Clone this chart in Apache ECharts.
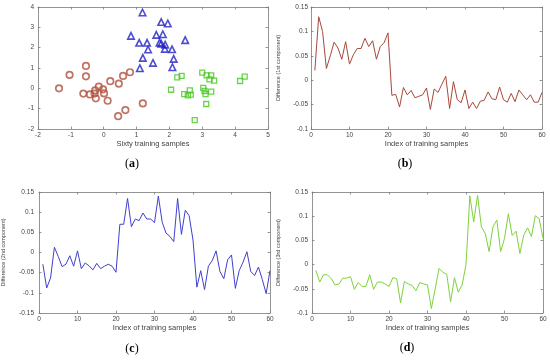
<!DOCTYPE html>
<html><head><meta charset="utf-8">
<script src="https://cdn.jsdelivr.net/npm/echarts@6/dist/echarts.min.js"></script>
<style>html,body{margin:0;padding:0;background:#fff}#c{width:550px;height:361px}</style>
</head><body><div id="c"></div>
<script>
// ---- data ----
const idx = [1,2,3,4,5,6,7,8,9,10,11,12,13,14,15,16,17,18,19,20,21,22,23,24,25,26,27,28,29,30,
  31,32,33,34,35,36,37,38,39,40,41,42,43,44,45,46,47,48,49,50,51,52,53,54,55,56,57,58,59,60];
const diff1 = [0.02,0.13,0.10,0.024,0.05,0.078,0.066,0.043,0.079,0.033,0.052,0.065,0.065,0.086,0.069,0.081,0.043,0.069,0.077,0.097,
  -0.031,-0.029,-0.055,-0.015,-0.03,-0.021,-0.036,-0.033,-0.03,-0.016,-0.06,-0.018,-0.025,-0.008,0.008,-0.058,-0.003,-0.04,-0.046,-0.02,
  -0.058,-0.045,-0.058,-0.043,-0.041,-0.024,-0.038,-0.04,-0.014,-0.04,-0.045,-0.027,-0.044,-0.02,-0.03,-0.04,-0.03,-0.045,-0.045,-0.025];
const diff2 = [-0.029,-0.088,-0.063,0.013,-0.01,-0.035,-0.029,-0.008,-0.034,0.004,-0.04,-0.026,-0.033,-0.043,-0.027,-0.04,-0.034,-0.029,-0.034,-0.049,
  0.07,0.07,0.134,0.064,0.083,0.079,0.098,0.083,0.083,0.074,0.14,0.075,0.048,0.04,0.027,0.134,0.045,0.105,0.091,0.031,
  -0.086,-0.045,-0.092,-0.034,-0.02,0.004,-0.047,-0.065,-0.018,-0.006,-0.089,-0.045,-0.024,0.002,-0.047,-0.057,-0.036,-0.067,-0.102,-0.045];
const diff3 = [-0.012,-0.036,-0.021,-0.021,-0.029,-0.042,-0.04,-0.028,-0.028,-0.025,-0.051,-0.037,-0.045,-0.045,-0.021,-0.051,-0.036,-0.036,-0.04,-0.045,
  -0.027,-0.029,-0.079,-0.035,-0.04,-0.043,-0.054,-0.037,-0.04,-0.042,-0.091,-0.05,-0.008,-0.016,-0.02,-0.077,-0.027,-0.057,-0.042,0.0,
  0.142,0.088,0.143,0.078,0.064,0.027,0.078,0.092,0.027,0.054,0.105,0.06,0.069,0.023,0.061,0.076,0.058,0.101,0.095,0.054];
const classCircle = [[-1.04,0.66],[-0.54,1.1],[-0.54,0.59],[-1.36,0.0],[0.8,0.79],[0.59,0.61],[0.2,0.35],[0.46,0.23],[-0.15,0.08],[-0.26,-0.1],
  [-0.02,-0.05],[-0.62,-0.26],[-0.42,-0.3],[-0.28,-0.26],[0.01,-0.25],[-0.24,-0.49],[0.12,-0.61],[1.19,-0.74],[0.66,-1.07],[0.44,-1.37]];
const classTriangle = [[1.18,3.73],[1.75,3.26],[1.95,3.19],[0.83,2.58],[1.6,2.63],[1.8,2.66],[1.08,2.24],[1.32,2.24],[1.7,2.25],[1.75,2.2],
  [1.87,2.15],[2.48,2.37],[1.35,1.91],[1.86,1.94],[2.08,1.92],[1.19,1.5],[1.5,1.25],[2.13,1.45],[1.1,0.99],[2.09,1.04]];
const classSquare = [[2.24,0.54],[2.37,0.61],[2.05,-0.07],[3.0,0.77],[3.13,0.64],[3.27,0.64],[3.22,0.44],[3.36,0.38],[4.15,0.36],[4.29,0.58],
  [3.03,0.02],[3.07,-0.13],[3.27,-0.16],[3.1,-0.28],[2.62,-0.1],[2.45,-0.28],[2.56,-0.35],[2.65,-0.31],[3.12,-0.77],[2.77,-1.56]];
const xTitleA = 'Sixty training samples';
const xTitleLine = 'Index of training samples';
const yTitles = ['Difference (1st component)','Difference (2nd component)','Difference (3rd component)'];
const panelLabels = ['a','b','c','d'];

// ---- chart ----
const FONT = 'Liberation Sans, Arial, sans-serif';
const frameColor = '#7a7a7a';
const grids = [
  {left:38, top:7, width:230, height:122},
  {left:311, top:7, width:231, height:122},
  {left:39, top:192, width:231, height:121},
  {left:312, top:192, width:231, height:121}
];
const ranges = [
  {x:[-2,5,1], y:[-2,4,1], ym:4},
  {x:[0,60,10], y:[-0.1,0.15,0.05], ym:3},
  {x:[0,60,10], y:[-0.15,0.15,0.05], ym:5},
  {x:[0,60,10], y:[-0.1,0.15,0.05], ym:4}
];
const yNameGap = [0, 30, 33, 31];
const xAxes = [], yAxes = [];
grids.forEach((g, i) => {
  const r = ranges[i];
  const tick = {show:true, inside:true, length:2.5, lineStyle:{color:frameColor, width:0.8}};
  const line = {show:true, onZero:false, lineStyle:{color:frameColor, width:0.8}};
  xAxes.push({type:'value', gridIndex:i, min:r.x[0], max:r.x[1], interval:r.x[2], position:'bottom',
    axisLine:line, axisTick:tick, splitLine:{show:false},
    axisLabel:{show:true, margin:3, fontSize:6.5, color:'#444', fontFamily:FONT, showMinLabel:true, showMaxLabel:true, hideOverlap:false},
    name: i===0 ? xTitleA : xTitleLine, nameLocation:'middle', nameGap:11,
    nameTextStyle:{fontSize:7.5, color:'#444', fontFamily:FONT}});
  xAxes.push({type:'value', gridIndex:i, min:r.x[0], max:r.x[1], interval:r.x[2], position:'top',
    axisLine:line, axisTick:tick, splitLine:{show:false}, axisLabel:{show:false}});
  yAxes.push({type:'value', gridIndex:i, min:r.y[0], max:r.y[1], interval:r.y[2], position:'left',
    axisLine:line, axisTick:tick, splitLine:{show:false},
    axisLabel:{show:true, margin:r.ym, fontSize:6.5, color:'#444', fontFamily:FONT, showMinLabel:true, showMaxLabel:true, hideOverlap:false},
    name: i===0 ? '' : yTitles[i-1], nameLocation:'middle', nameGap:yNameGap[i],
    nameTextStyle:{fontSize:5.5, color:'#444', fontFamily:FONT}});
  yAxes.push({type:'value', gridIndex:i, min:r.y[0], max:r.y[1], interval:r.y[2], position:'right',
    axisLine:line, axisTick:tick, splitLine:{show:false}, axisLabel:{show:false}});
});

const toPts = arr => idx.map((x, k) => [x, arr[k]]);
const lineSeries = (arr, gi, color) => ({type:'line', xAxisIndex:gi*2, yAxisIndex:gi*2, data:toPts(arr),
  showSymbol:false, symbol:'none', lineStyle:{color:color, width:1}, silent:true});
const scat = (data, sym, size, color, bw) => ({type:'scatter', xAxisIndex:0, yAxisIndex:0, data:data, symbol:sym, symbolSize:size,
  itemStyle:{color:'rgba(0,0,0,0)', borderColor:color, borderWidth:bw}, silent:true});

const labelPos = [[132,164],[405,164],[132,349],[407,348]];
const graphics = panelLabels.map((t, k) => ({type:'text', x:labelPos[k][0], y:labelPos[k][1],
  style:{text:'{p|(}{b|' + t + '}{p|)}', align:'center', verticalAlign:'middle',
    rich:{p:{fontSize:12, fontFamily:'Liberation Serif, Times New Roman, serif', fill:'#000'},
          b:{fontSize:12, fontWeight:'bold', fontFamily:'Liberation Serif, Times New Roman, serif', fill:'#000'}}}}));

const chart = echarts.init(document.getElementById('c'), null, {renderer:'canvas'});
chart.setOption({
  animation:false,
  backgroundColor:'#fff',
  grid: grids.map(g => Object.assign({outerBoundsMode:'none', containLabel:false}, g)),
  xAxis: xAxes, yAxis: yAxes,
  series: [
    scat(classCircle, 'circle', 6.5, '#b0503c', 1.7),
    scat(classTriangle, 'triangle', 6.5, '#2020c4', 1.6),
    scat(classSquare, 'rect', 5, '#44c81e', 1.3),
    lineSeries(diff1, 1, '#a8483a'),
    lineSeries(diff2, 2, '#4040d0'),
    lineSeries(diff3, 3, '#7ed23c')
  ],
  graphic: graphics
});
</script></body></html>
